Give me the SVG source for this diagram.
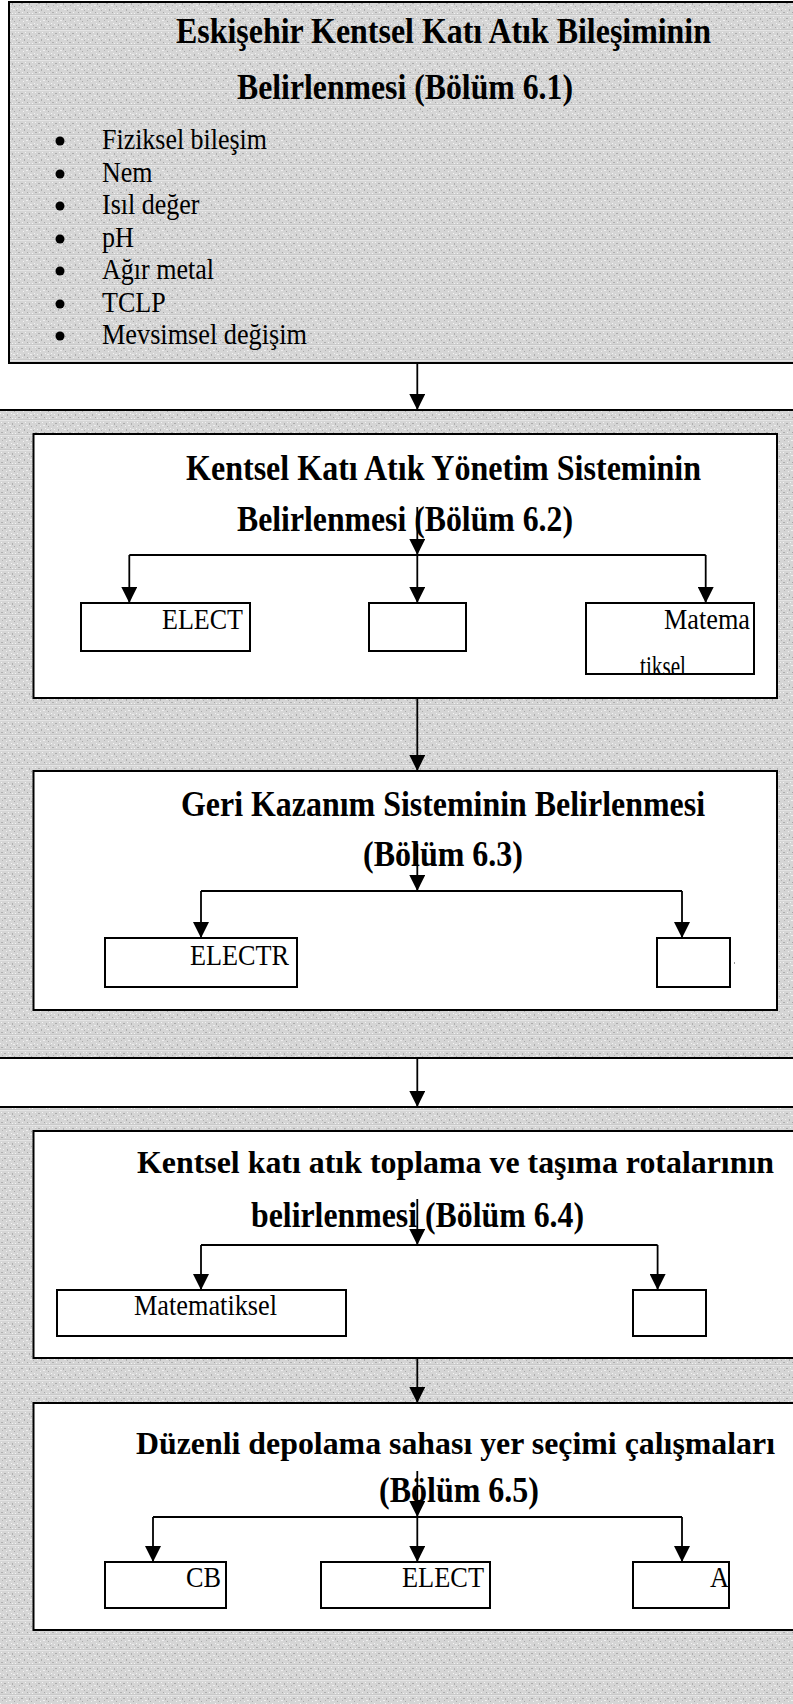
<svg xmlns="http://www.w3.org/2000/svg" width="793" height="1704" viewBox="0 0 793 1704">
  <defs>
    <!-- fine grey grain used for the outer bands -->
    <pattern id="grain" width="17" height="15" patternUnits="userSpaceOnUse">
      <rect width="17" height="15" fill="#d5d5d5"/>
      <rect x="0" y="0" width="17" height="1" fill="#e4e4e4"/>
      <rect x="1" y="2" width="1" height="1" fill="#f4f4f4"/>
      <rect x="4" y="3" width="2" height="1" fill="#ababab"/>
      <rect x="8" y="2" width="1" height="1" fill="#f4f4f4"/>
      <rect x="12" y="3" width="1" height="2" fill="#b0b0b0"/>
      <rect x="15" y="2" width="1" height="1" fill="#f0f0f0"/>
      <rect x="2" y="5" width="1" height="1" fill="#b3b3b3"/>
      <rect x="6" y="6" width="1" height="1" fill="#f2f2f2"/>
      <rect x="9" y="5" width="2" height="1" fill="#f0f0f0"/>
      <rect x="14" y="6" width="1" height="1" fill="#a9a9a9"/>
      <rect x="0" y="8" width="1" height="1" fill="#f3f3f3"/>
      <rect x="3" y="9" width="1" height="1" fill="#f1f1f1"/>
      <rect x="7" y="9" width="1" height="2" fill="#adadad"/>
      <rect x="11" y="8" width="1" height="1" fill="#f4f4f4"/>
      <rect x="13" y="9" width="2" height="1" fill="#f0f0f0"/>
      <rect x="16" y="10" width="1" height="1" fill="#b1b1b1"/>
      <rect x="1" y="12" width="2" height="1" fill="#aeaeae"/>
      <rect x="5" y="12" width="1" height="1" fill="#f3f3f3"/>
      <rect x="10" y="12" width="1" height="1" fill="#a8a8a8"/>
      <rect x="12" y="13" width="1" height="1" fill="#f2f2f2"/>
      <rect x="15" y="13" width="1" height="1" fill="#f4f4f4"/>
      <rect x="0" y="14" width="17" height="1" fill="#c9c9c9"/>
    </pattern>
    <marker id="head" viewBox="0 0 16 16" refX="16" refY="8" markerWidth="16" markerHeight="16" markerUnits="userSpaceOnUse" orient="auto">
      <path d="M0,0 L16,8 L0,16 Z" fill="#000"/>
    </marker>
    <clipPath id="clip-matema">
      <rect x="587" y="604" width="166" height="70"/>
    </clipPath>
  </defs>
  <style>
    .band{fill:url(#grain);stroke:#000;stroke-width:2}
    .panel{fill:#fff;stroke:#000;stroke-width:2}
    .leaf{fill:#fff;stroke:#000;stroke-width:2}
    .title{font-family:"Liberation Serif","Times New Roman",serif;font-weight:bold;font-size:35px;fill:#000}
    .title.wide{font-size:32px}
    .body{font-family:"Liberation Serif","Times New Roman",serif;font-size:28.5px;fill:#000}
    .wire{fill:none;stroke:#000;stroke-width:1.8}
    .arrow{fill:none;stroke:#000;stroke-width:1.8;marker-end:url(#head)}
  </style>

  <rect width="793" height="1704" fill="#fff"/>

  <!-- 6.1 composition block -->
  <g id="node-composition">
    <rect class="band" x="9" y="2" width="800" height="361"/>
    <text class="title" x="176" y="43" textLength="535" lengthAdjust="spacingAndGlyphs">Eskişehir Kentsel Katı Atık Bileşiminin</text>
    <text class="title" x="237" y="99" textLength="336" lengthAdjust="spacingAndGlyphs">Belirlenmesi (Bölüm 6.1)</text>
    <g class="body">
      <circle cx="60" cy="141" r="4.5"/>
      <text x="102" y="149" textLength="165" lengthAdjust="spacingAndGlyphs">Fiziksel bileşim</text>
      <circle cx="60" cy="174" r="4.5"/>
      <text x="102" y="182" textLength="50.5" lengthAdjust="spacingAndGlyphs">Nem</text>
      <circle cx="60" cy="206" r="4.5"/>
      <text x="102" y="214" textLength="97.5" lengthAdjust="spacingAndGlyphs">Isıl değer</text>
      <circle cx="60" cy="239" r="4.5"/>
      <text x="102" y="247" textLength="31.8" lengthAdjust="spacingAndGlyphs">pH</text>
      <circle cx="60" cy="271" r="4.5"/>
      <text x="102" y="279" textLength="112" lengthAdjust="spacingAndGlyphs">Ağır metal</text>
      <circle cx="60" cy="304" r="4.5"/>
      <text x="102" y="312" textLength="63.6" lengthAdjust="spacingAndGlyphs">TCLP</text>
      <circle cx="60" cy="336" r="4.5"/>
      <text x="102" y="344" textLength="205" lengthAdjust="spacingAndGlyphs">Mevsimsel değişim</text>
    </g>
  </g>

  <!-- grey bands holding the later stages -->
  <g id="band-systems">
    <rect class="band" x="-5" y="410" width="810" height="648"/>
  </g>
  <g id="band-routes">
    <rect class="band" x="-5" y="1107" width="810" height="620"/>
  </g>

  <!-- 6.2 management system -->
  <g id="node-management">
    <rect class="panel" x="33.5" y="434" width="743.5" height="264"/>
    <text class="title" x="186" y="480" textLength="515" lengthAdjust="spacingAndGlyphs">Kentsel Katı Atık Yönetim Sisteminin</text>
    <text class="title" x="237" y="531" textLength="336" lengthAdjust="spacingAndGlyphs">Belirlenmesi (Bölüm 6.2)</text>
  </g>
  <g id="node-management-elect">
    <rect class="leaf" x="81" y="603" width="169" height="48"/>
    <text class="body" x="162" y="629" textLength="81" lengthAdjust="spacingAndGlyphs">ELECT</text>
  </g>
  <g id="node-management-mid">
    <rect class="leaf" x="369" y="603" width="97" height="48"/>
  </g>
  <g id="node-management-math">
    <rect class="leaf" x="586" y="603" width="168" height="71"/>
    <text class="body" x="664" y="629" textLength="86" lengthAdjust="spacingAndGlyphs">Matema</text>
    <text class="body" x="640" y="676" textLength="46" lengthAdjust="spacingAndGlyphs" clip-path="url(#clip-matema)">tiksel</text>
  </g>

  <!-- 6.3 recovery system -->
  <g id="node-recovery">
    <rect class="panel" x="33.5" y="771" width="743.5" height="239"/>
    <text class="title" x="181" y="816" textLength="524" lengthAdjust="spacingAndGlyphs">Geri Kazanım Sisteminin Belirlenmesi</text>
    <text class="title" x="363" y="866" textLength="160" lengthAdjust="spacingAndGlyphs">(Bölüm 6.3)</text>
  </g>
  <g id="node-recovery-electr">
    <rect class="leaf" x="105" y="938" width="192" height="49"/>
    <text class="body" x="190" y="965" textLength="99" lengthAdjust="spacingAndGlyphs">ELECTR</text>
  </g>
  <g id="node-recovery-right">
    <rect class="leaf" x="657" y="938" width="73" height="49"/>
    <rect x="734" y="962" width="1" height="2" fill="#9a9a9a"/>
  </g>

  <!-- 6.4 collection routes -->
  <g id="node-routes">
    <rect class="panel" x="33.5" y="1131" width="780" height="227"/>
    <text class="title wide" x="137" y="1173" textLength="637" lengthAdjust="spacingAndGlyphs">Kentsel katı atık toplama ve taşıma rotalarının</text>
    <text class="title" x="251" y="1227" textLength="333" lengthAdjust="spacingAndGlyphs">belirlenmesi (Bölüm 6.4)</text>
  </g>
  <g id="node-routes-math">
    <rect class="leaf" x="57" y="1290" width="289" height="46"/>
    <text class="body" x="134" y="1315" textLength="143" lengthAdjust="spacingAndGlyphs">Matematiksel</text>
  </g>
  <g id="node-routes-right">
    <rect class="leaf" x="633" y="1290" width="73" height="46"/>
  </g>

  <!-- 6.5 landfill siting -->
  <g id="node-landfill">
    <rect class="panel" x="33.5" y="1403" width="780" height="227"/>
    <text class="title wide" x="136" y="1454" textLength="639" lengthAdjust="spacingAndGlyphs">Düzenli depolama sahası yer seçimi çalışmaları</text>
    <text class="title" x="379" y="1502" textLength="160" lengthAdjust="spacingAndGlyphs">(Bölüm 6.5)</text>
  </g>
  <g id="node-landfill-cb">
    <rect class="leaf" x="105" y="1562" width="121" height="46"/>
    <text class="body" x="186" y="1587" textLength="35" lengthAdjust="spacingAndGlyphs">CB</text>
  </g>
  <g id="node-landfill-elect">
    <rect class="leaf" x="321" y="1562" width="169" height="46"/>
    <text class="body" x="402" y="1587" textLength="82" lengthAdjust="spacingAndGlyphs">ELECT</text>
  </g>
  <g id="node-landfill-a">
    <rect class="leaf" x="633" y="1562" width="96" height="46"/>
    <text class="body" x="710" y="1587" textLength="19" lengthAdjust="spacingAndGlyphs">A</text>
  </g>

  <!-- connectors -->
  <g id="connectors">
    <path class="arrow" d="M417.3,363 V410"/>

    <path class="arrow" d="M417.3,507 V555"/>
    <path class="wire" d="M129.3,555 H705.7"/>
    <path class="arrow" d="M129.3,555 V603"/>
    <path class="arrow" d="M417.3,555 V603"/>
    <path class="arrow" d="M705.7,555 V603"/>

    <path class="arrow" d="M417.3,698 V771"/>

    <path class="arrow" d="M417.3,844 V891"/>
    <path class="wire" d="M201,891 H682"/>
    <path class="arrow" d="M201,891 V938"/>
    <path class="arrow" d="M682,891 V938"/>

    <path class="arrow" d="M417.3,1058 V1107"/>

    <path class="arrow" d="M417.3,1199 V1245"/>
    <path class="wire" d="M201,1245 H657.6"/>
    <path class="arrow" d="M201,1245 V1290"/>
    <path class="arrow" d="M657.6,1245 V1290"/>

    <path class="arrow" d="M417.3,1358 V1403"/>

    <path class="arrow" d="M417.3,1471 V1517"/>
    <path class="wire" d="M153,1517 H682"/>
    <path class="arrow" d="M153,1517 V1562"/>
    <path class="arrow" d="M417.3,1517 V1562"/>
    <path class="arrow" d="M682,1517 V1562"/>
  </g>
</svg>
